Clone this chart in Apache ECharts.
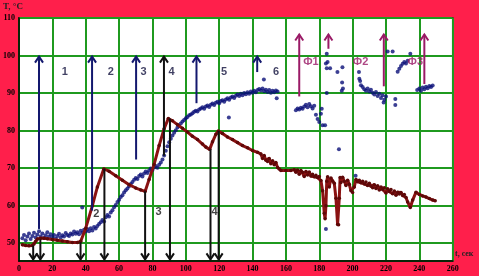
<!DOCTYPE html>
<html><head><meta charset="utf-8">
<script src="https://cdn.jsdelivr.net/npm/echarts@6/dist/echarts.min.js"></script>
<style>html,body{margin:0;padding:0;background:#FF1F4B;}#c{width:479px;height:276px;}</style>
</head><body><div id="c"></div>
<script>
// x tick labels (seconds) and y tick labels (°C)
const xTicks = [0,20,40,60,80,100,120,140,160,180,200,220,240,260];
const yTicks = [50,60,70,80,90,100,110];

// red line: temperature curve
const redLine = [[2,49.6],[4,49.4],[6,49.3],[8,49.4],[9,49.8],[10,50.5],[11,51.1],[13,51.3],[15,51.3],[17,51.2],[20,51.0],[23,50.8],[26,50.6],[29,50.4],[32,50.2],[35,50.2],[37,50.5],[40,54],[44,60],[47,65],[50.8,69.8],[54,69.2],[58,68],[62,66.8],[66,65.6],[70,64.7],[73,64.2],[75.6,63.8],[78,67],[81,71],[84,76],[87,80.5],[89.5,83.2],[92,82.6],[95,81.6],[98,80.6],[101,79.6],[104,78.5],[107,77.6],[110,76.4],[112,75.6],[114.3,75],[116,77],[118,79],[119.5,79.9],[122,79.2],[125,78.3],[128,77.6],[131,76.8],[134,76],[137,75.4],[140,74.7],[143,74.2],[145,73.8],[146,72.6],[147,73.4],[148,72.1],[149,71.8],[150,72.6],[151,71.2],[152,72],[153,70.9],[154,71.5],[155,70.2],[156,69.8],[157,69.4],[160,69.4],[163,69.4],[165,69.6],[166,68.9],[167,69.5],[168,68.4],[169,69.4],[170,68.9],[171,67.8],[172,69.1],[173,68.2],[174,69.0],[175,67.9],[176,68.4],[177,67.7],[178,68.1],[179,67.5],[180,67.8],[181,66.7],[182,64],[183,58],[183.5,56.5],[184,60],[184.5,66.5],[185,67.7],[186,65],[187,67.4],[188,66.6],[189,66],[190,62],[191,55],[191.6,54.9],[192,62],[192.5,67.5],[193,66.2],[194,67.6],[195,66.5],[196,65.4],[197,66.8],[198,65.7],[199,64],[200,63.5],[201,65],[202,67],[203,66.4],[204,66.8],[205,66.1],[206,66.5],[207,65.8],[208,66.3],[209,65.4],[210,66],[211,65.2],[212,64.8],[213,65.6],[214,64.6],[215,65.3],[216,64.2],[217,65],[218,64.3],[219,64.8],[220,63.4],[221,64.5],[222,63.8],[223,64.3],[224,63.2],[225,63.9],[226,62.8],[227,63.6],[228,63.1],[229,63.5],[230,62.7],[231,63],[232,62.2],[233,61],[234.6,59.5],[236,61.5],[238,63.6],[240,63],[242,62.6],[244,62.3],[246,61.9],[248,61.5],[249.5,61.3]];

// blue scatter: measured points
const bluePoints = [[2,51.3],[3,52.2],[4,50.8],[5,51.8],[6,52.6],[7,51.1],[8,51.9],[9,52.8],[10,51.5],[11,52.3],[12,53.2],[13,51.8],[14,52.6],[15,51.4],[16,52.1],[17,52.9],[18,51.7],[19,52.4],[20,51.6],[21,52.2],[22,51.2],[23,51.9],[24,52.5],[25,51.5],[26,52.1],[27,51.8],[28,52.7],[29,52.2],[30,51.9],[31,52.6],[32,52.3],[33,53.1],[34,52.5],[35,52.9],[36,52.4],[37,53.3],[38,52.8],[39,53.6],[40,53.1],[41,53.8],[42,53.2],[43,54],[44,53.4],[45,54.3],[46,53.9],[47,54.6],[48,55.1],[37.9,59.5],
[49,55.6],[50,56.2],[51,55.8],[52,56.9],[53,57.5],[54,57.1],[55,58.2],[56,58.8],[57,59.6],[58,60.2],[59,61],[60,61.6],[61,62.3],[62,62.8],[63,63.5],[64,64.1],[65,64.6],[66,65.2],[67,65.8],[68,66.3],[69,66.9],[70,67.4],[71,67.1],[72,67.9],[73,68.3],[74,67.8],[75,68.6],[76,69.1],[77,68.7],[78,69.4],[79,69.9],[80,69.5],[81,70.2],[82,70.6],[83,70.1],[84,70.9],[85,71.5],[86,72.3],[87,73.4],[88,74.6],[89,75.8],[90,76.9],[91,77.8],[92,78.7],[93,79.4],[94,80.1],[95,80.8],[96,81.2],[97,81.9],[98,82.4],[99,82.8],[100,83.3],[101,83.6],[102,84.1],[103,84.3],[104,84.6],[105,85],[106,85.3],[107,85.1],[108,85.6],[109,85.9],[110,86.2],[111,85.8],[112,86.4],[113,86.7],[114,86.3],[115,86.9],[116,87.2],[117,86.8],[118,87.4],[119,87.7],[120,87.3],[121,87.9],[122,88.1],[123,87.7],[124,88.3],[125,88.6],[126,88.2],[127,88.8],[128,89.1],[129,88.7],[130,89.3],[131,89.6],[132,89.2],[133,89.8],[134,89.4],[135,90],[136,89.7],[137,90.2],[138,89.8],[139,90.4],[140,90.1],[141,90.6],[142,90.2],[143,90.8],[144,91.1],[145,90.7],[146,91.2],[147,90.5],[148,90.9],[149,90.3],[150,90.8],[151,90.1],[152,90.6],[153,90.2],[154,90.7],[155,90.4],[125.8,83.5],[146.8,93.6],[154.5,88.6],
[166,85.4],[167,85.9],[168,85.6],[169,86.1],[170,85.8],[171,86.4],[172,86.9],[173,86.2],[174,87.1],[175,86.5],[176,85.9],[177,86.6],[178,84.2],[179,83.1],[180,82.3],[181,84.5],[181.5,85.8],[182,81.4],[183.5,81.4],[184.5,100.5],[184,97.9],[185,98.3],[184.5,96.6],[186.5,96.6],[190.9,95.6],[193.9,96.9],[193.7,92.8],[194.2,91.2],[193.5,90.6],[184.5,90],
[203.8,95.6],[204,93.8],[204.5,93.2],[205,92.1],[206,91.6],[207,91],[208,90.6],[209,91.2],[210,90.4],[211,90.9],[212,90.1],[213,89.6],[214,90.3],[215,89.2],[216,89.8],[217,88.7],[218,89.4],[218.6,87.5],[219,88.2],[220,89.1],[225.6,88.4],[225.6,86.8],
[221,101.1],[224,101.1],[227,95.7],[228,96.5],[229,97.2],[230,97.8],[231,98.3],[232,97.9],[233,98.6],[234.6,100.5],[238.7,90.8],[240,91.2],[241,90.6],[242,91.5],[243,91],[244,91.7],[245,91.3],[246,91.9],[247,91.6],[248,92],
[191.8,75],[201.8,68],[184,53.8]];

// arrows: [x, from T, to T]
const blueArrows = [[12,53.8,99.7],[43.8,58.7,99.7],[70.2,72.3,99.7],[106.4,87.3,99.7],[142.8,95.6,99.7]];
const blackArrows = [[86.9,73.3,99.7],[8.5,49.4,45.7],[12.8,51,45.7],[36.9,50.3,45.7],[51.2,69.8,45.7],[75.6,63.8,45.7],[90.5,83.2,45.7],[114.8,75,45.7],[119.7,79.9,45.7]];
const purpleArrows = [[168,89.1,105.6],[185.5,101.8,105.6],[218.7,91.8,105.6],[243,92.4,105.6]];

// labels: [x, T, text]
const blueLabels = [[27.5,95.7,'1'],[55.1,95.7,'2'],[74.6,95.7,'3'],[91.5,95.7,'4'],[122.9,95.7,'5'],[154.1,95.7,'6']];
const blackLabels = [[46.4,57.9,'2'],[83.6,58.4,'3'],[117.3,58.4,'4']];
const purpleLabels = [[175,98.4,'Ф1'],[204.8,98.4,'Ф2'],[237.6,98.3,'Ф3']];

function arrowSeries(data, color) {
  return {
    type: 'custom', data: data, silent: true, z: 5,
    renderItem: function (params, api) {
      const x = api.value(0), a = api.value(1), b = api.value(2);
      const p1 = api.coord([x, a]), p2 = api.coord([x, b]);
      const d = p2[1] > p1[1] ? 1 : -1;
      return {type: 'group', children: [
        {type: 'line', shape: {x1: p1[0], y1: p1[1], x2: p2[0], y2: p2[1]}, style: {stroke: color, lineWidth: 2}},
        {type: 'polyline', shape: {points: [[p2[0]-4, p2[1]-d*6], [p2[0], p2[1]], [p2[0]+4, p2[1]-d*6]]}, style: {stroke: color, lineWidth: 2, fill: null}}
      ]};
    }
  };
}
function labelSeries(data, color) {
  return {
    type: 'scatter', data: data, symbolSize: 0, silent: true, z: 6,
    label: {show: true, position: 'inside', formatter: p => p.value[2], color: color,
      fontFamily: 'Liberation Sans', fontWeight: 'bold', fontSize: 11}
  };
}

const chart = echarts.init(document.getElementById('c'), null, {renderer: 'canvas'});
const axisFont = {fontFamily: 'Liberation Serif', fontWeight: 'bold', fontSize: 8, color: '#000'};
chart.setOption({
  animation: false,
  backgroundColor: '#FF1F4B',
  grid: {left: 16.5, right: 26.3, top: 18, bottom: 15, show: true, backgroundColor: '#ffffff', borderColor: '#000', borderWidth: 1.5},
  graphic: [
    {type: 'text', left: 3, top: 2, style: {text: 'T, °C', font: 'bold 9px "Liberation Serif"', fill: '#222'}},
    {type: 'text', left: 455, top: 250, style: {text: 't, сек', font: 'bold 8px "Liberation Serif"', fill: '#222'}}
  ],
  xAxis: {type: 'value', min: xTicks[0], max: xTicks[xTicks.length-1], interval: 20,
    axisLine: {lineStyle: {color: '#000', width: 1.5}}, axisTick: {show: false},
    axisLabel: {...axisFont, margin: 4, formatter: v => xTicks.includes(v) ? String(v) : ''},
    splitLine: {show: true, lineStyle: {color: '#1f9a1f', width: 2}}},
  yAxis: {type: 'value', min: 45.26, max: yTicks[yTicks.length-1], splitNumber: 6,
    axisLine: {show: true, lineStyle: {color: '#000', width: 1.5}}, axisTick: {show: false},
    axisLabel: {...axisFont, margin: 4, formatter: v => yTicks.includes(v) ? String(v) : ''},
    splitLine: {show: true, lineStyle: {color: '#1f9a1f', width: 2}}},
  series: [
    {type: 'scatter', data: bluePoints, symbolSize: 4, itemStyle: {color: '#0a0f78'}, z: 3},
    {type: 'line', data: redLine, symbol: 'circle', symbolSize: 3.5, showSymbol: true, clip: false,
      lineStyle: {color: '#8a1212', width: 3}, itemStyle: {color: '#5e0808'}, z: 4},
    arrowSeries(blueArrows, '#13186e'),
    arrowSeries(blackArrows, '#111111'),
    arrowSeries(purpleArrows, '#9a1a66'),
    labelSeries(blueLabels, '#10103c'),
    labelSeries(blackLabels, '#111111'),
    labelSeries(purpleLabels, '#9a1a66')
  ]
});
</script></body></html>
